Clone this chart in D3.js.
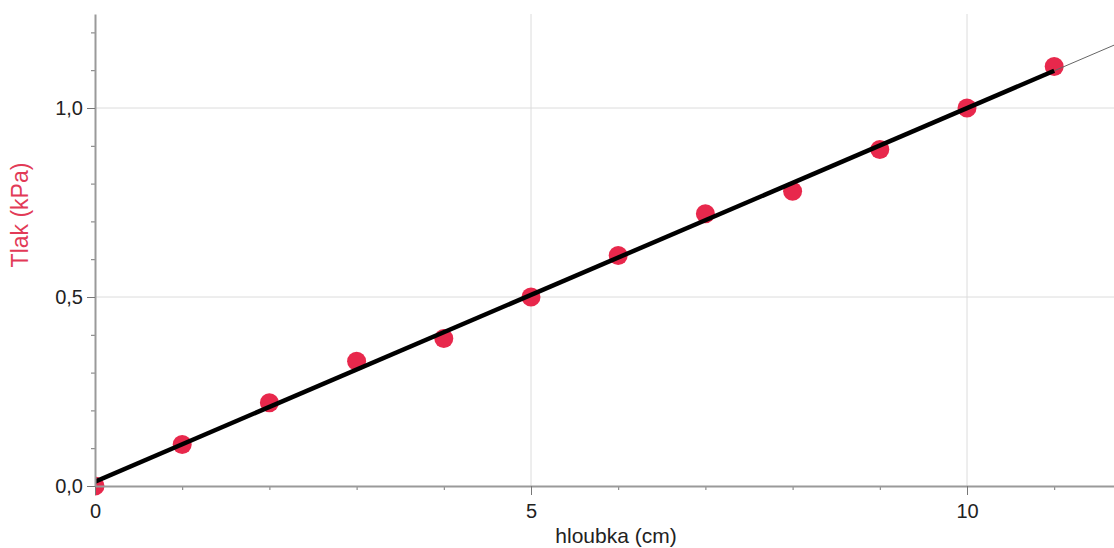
<!DOCTYPE html>
<html>
<head>
<meta charset="utf-8">
<style>
  body { margin: 0; background: #fff; }
  svg { display: block; font-family: "Liberation Sans", Arial, sans-serif; }
</style>
</head>
<body>
<script src="https://cdn.jsdelivr.net/npm/d3@7"></script>
<script>
// measured data: depth (cm) vs pressure (kPa)
var depths = [0, 1, 2, 3, 4, 5, 6, 7, 8, 9, 10, 11];
var pressures = [0.0, 0.11, 0.22, 0.33, 0.39, 0.50, 0.61, 0.72, 0.78, 0.89, 1.00, 1.11];
var xTickLabels = [0, 5, 10];
var yTickLabels = [0, 0.5, 1.0];

var W = 1114, H = 548;
var margin = {top: 14, right: 0, bottom: 62, left: 95};
var width = W - margin.left - margin.right,
    height = H - margin.top - margin.bottom;

var x = d3.scaleLinear().domain([0, width / 87.2]).range([0, width]);
var y = d3.scaleLinear().domain([0, height / 378]).range([height, 0]);

var svg = d3.select("body").append("svg")
    .attr("width", W)
    .attr("height", H)
  .append("g")
    .attr("transform", "translate(" + margin.left + "," + margin.top + ")");

svg.append("defs").append("clipPath").attr("id", "plot")
  .append("rect").attr("x", 0).attr("y", -margin.top).attr("width", width).attr("height", height + margin.top + 10);

// grid
svg.selectAll(".vgrid").data(xTickLabels.filter(function(d){ return d > 0; }))
  .enter().append("line")
  .attr("x1", function(d){ return x(d); }).attr("x2", function(d){ return x(d); })
  .attr("y1", 0).attr("y2", height)
  .attr("stroke", "#dcdcdc").attr("stroke-width", 1);
svg.selectAll(".hgrid").data(yTickLabels.filter(function(d){ return d > 0; }))
  .enter().append("line")
  .attr("x1", 0).attr("x2", width)
  .attr("y1", function(d){ return y(d); }).attr("y2", function(d){ return y(d); })
  .attr("stroke", "#dcdcdc").attr("stroke-width", 1);

// least squares fit
var mx = d3.mean(depths), my = d3.mean(pressures);
var sxy = d3.sum(depths, function(d, i){ return (d - mx) * (pressures[i] - my); });
var sxx = d3.sum(depths, function(d){ return (d - mx) * (d - mx); });
var slope = sxy / sxx, intercept = my - slope * mx;
function fit(v) { return slope * v + intercept; }

var g = svg.append("g").attr("clip-path", "url(#plot)");

// points
g.selectAll("circle").data(depths).enter().append("circle")
  .attr("cx", function(d){ return x(d); })
  .attr("cy", function(d, i){ return y(pressures[i]); })
  .attr("r", 9.5)
  .attr("fill", "#e8284c");

// thin extension of fit
var xMax = x.domain()[1];
g.append("line")
  .attr("x1", x(d3.max(depths))).attr("y1", y(fit(d3.max(depths))))
  .attr("x2", x(xMax)).attr("y2", y(fit(xMax)))
  .attr("stroke", "#666").attr("stroke-width", 1);
// thick fit line over data range
g.append("line")
  .attr("x1", x(0)).attr("y1", y(fit(0)))
  .attr("x2", x(d3.max(depths))).attr("y2", y(fit(d3.max(depths))))
  .attr("stroke", "#000").attr("stroke-width", 4.5);

// axes
var xAxis = svg.append("g").attr("transform", "translate(0," + height + ")")
  .call(d3.axisBottom(x).tickValues(d3.range(0, 12)).tickSize(4).tickSizeOuter(0).tickFormat(""));
var xMajor = svg.append("g").attr("transform", "translate(0," + height + ")")
  .call(d3.axisBottom(x).tickValues(xTickLabels).tickSize(9).tickPadding(9).tickSizeOuter(0)
        .tickFormat(d3.format("d")));
var yAxis = svg.append("g")
  .call(d3.axisLeft(y).tickValues(d3.range(0, 13).map(function(d){ return d / 10; })).tickSize(4).tickSizeOuter(0).tickFormat(""));
var yMajor = svg.append("g")
  .call(d3.axisLeft(y).tickValues(yTickLabels).tickSize(8).tickPadding(4).tickSizeOuter(0)
        .tickFormat(function(d){ return d3.format(".1f")(d).replace(".", ","); }));

[xAxis, xMajor, yAxis, yMajor].forEach(function(a){
  a.select(".domain").attr("stroke", "#9a9a9a").attr("stroke-width", 2);
  a.selectAll(".tick line").attr("stroke", "#777");
  a.selectAll(".tick text").attr("fill", "#222").style("font-size", "20px");
});
xAxis.select(".domain").remove();
yAxis.select(".domain").remove();

// labels
svg.append("text")
  .attr("x", 616 - margin.left).attr("y", 543 - margin.top)
  .attr("text-anchor", "middle")
  .attr("fill", "#222").style("font-size", "21px")
  .text("hloubka (cm)");
svg.append("text")
  .attr("transform", "translate(" + (28 - margin.left) + "," + (215 - margin.top) + ") rotate(-90)")
  .attr("text-anchor", "middle")
  .attr("fill", "#e23a57").style("font-size", "23px")
  .text("Tlak (kPa)");
</script>
</body>
</html>
